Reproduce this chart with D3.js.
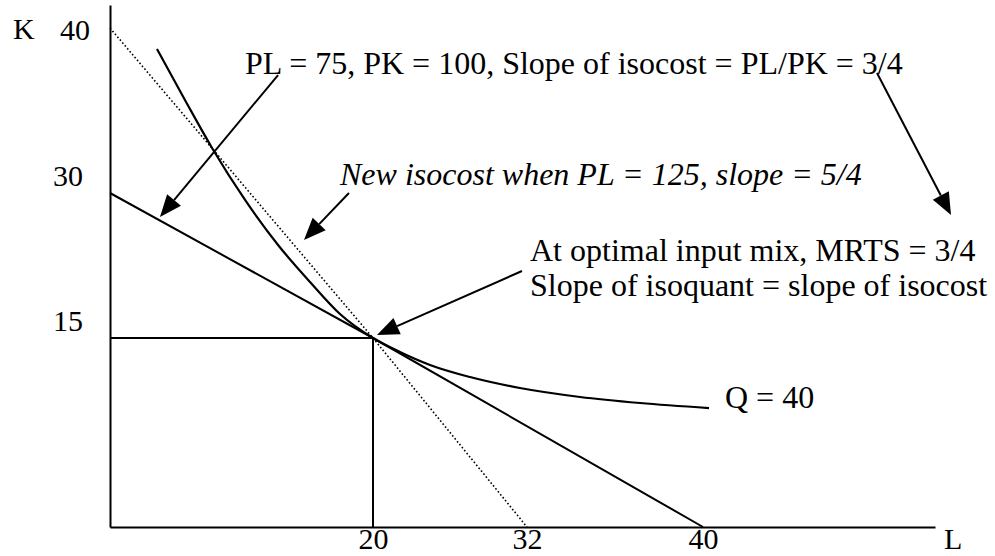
<!DOCTYPE html>
<html>
<head>
<meta charset="utf-8">
<script src="https://cdn.jsdelivr.net/npm/d3@7"></script>
<style>
  html, body { margin: 0; padding: 0; background: #fff; }
  svg { display: block; }
  text { font-family: "Liberation Serif", "Times New Roman", serif; font-size: 32px; fill: #000; }
</style>
</head>
<body>
<svg id="chart" width="995" height="556"></svg>
<script>
// Labour L on the horizontal axis, capital K on the vertical axis
const xTicks = [20, 32, 40];
const yTicks = [15, 30, 40];
const optimum = [20, 15];

// Isocost with PL = 75, PK = 100 (slope 3/4)
const isocost = [[0, 30], [20, 15], [40, 0]];
// New isocost when PL = 125 (slope 5/4)
const newIsocost = [[0, 40], [20, 15], [32, 0]];

// Isoquant Q = 40
const isoquantL = [3.57, 5.70, 7.76, 10.27, 12.78, 15.21, 17.49, 20.0, 22.10, 24.44, 27.56, 31.45, 34.41, 37.14, 40.26];
const isoquantK = [38.73, 35.64, 32.73, 29.28, 24.62, 20.79, 17.48, 15.0, 13.89, 12.86, 11.90, 11.03, 10.32, 9.84, 9.44];

// Annotation arrows, [from, to] in (L, K)
const arrowFrom = [[12.78, 37.15], [18.17, 30.0], [47.5, 37.27], [31.61, 21.93]];
const arrowTo   = [[3.80, 27.52], [14.75, 25.14], [50.69, 27.72], [20.31, 15.31]];

const svg = d3.select("#chart");

// Hand-drawn diagram: the axes are stretched piecewise between the labelled values
const x = d3.scaleLinear().domain([0, 20, 32, 40, 50]).range([110, 373, 527, 703, 935]);
const y = d3.scaleLinear().domain([0, 15, 30, 40, 42]).range([527, 338, 193, 28, 5]);

const line = d3.line().x(d => x(d[0])).y(d => y(d[1]));

// Axes
const xAxis = svg.append("g").attr("transform", `translate(0,${y(0)})`)
  .call(d3.axisBottom(x).tickValues(xTicks).tickSize(0).tickSizeOuter(0));
const yAxis = svg.append("g").attr("transform", `translate(${x(0)},0)`)
  .call(d3.axisLeft(y).tickValues(yTicks).tickSize(0).tickSizeOuter(0));
[xAxis, yAxis].forEach(g => {
  g.select(".domain").attr("stroke", "#000").attr("stroke-width", 2);
  g.selectAll(".tick text")
    .style("font-family", '"Liberation Serif", "Times New Roman", serif')
    .style("font-size", "30px").attr("fill", "#000").attr("dy", null);
});
xAxis.selectAll(".tick text").attr("y", 22);
yAxis.selectAll(".tick text")
  .attr("x", d => d === 40 ? -20 : -27)
  .attr("y", d => d === 40 ? 11 : -8);

svg.append("text").attr("x", 13).attr("y", 39).style("font-size", "30px").text("K");
svg.append("text").attr("x", 944).attr("y", 549).style("font-size", "30px").text("L");

// Guide lines to the optimal input mix
svg.append("path").attr("fill", "none").attr("stroke", "#000").attr("stroke-width", 2)
  .attr("d", line([[0, optimum[1]], optimum, [optimum[0], 0]]));

// Isocost lines
svg.append("path").attr("fill", "none").attr("stroke", "#000").attr("stroke-width", 2)
  .attr("d", line(isocost));
svg.append("path").attr("fill", "none").attr("stroke", "#000").attr("stroke-width", 1.6)
  .attr("stroke-dasharray", "1.6 2.2").attr("d", line(newIsocost));

// Isoquant
svg.append("path").attr("fill", "none").attr("stroke", "#000").attr("stroke-width", 2.2)
  .attr("d", d3.line().curve(d3.curveMonotoneX).x(d => x(d[0])).y(d => y(d[1]))(
    isoquantL.map((l, i) => [l, isoquantK[i]])));

// Arrows with filled heads
arrowFrom.forEach((f, i) => {
  const x0 = x(f[0]), y0 = y(f[1]), x1 = x(arrowTo[i][0]), y1 = y(arrowTo[i][1]);
  const a = Math.atan2(y1 - y0, x1 - x0);
  const len = 22, half = 9;
  const bx = x1 - len * Math.cos(a), by = y1 - len * Math.sin(a);
  svg.append("line").attr("x1", x0).attr("y1", y0).attr("x2", bx).attr("y2", by)
    .attr("stroke", "#000").attr("stroke-width", 2);
  svg.append("path").attr("fill", "#000")
    .attr("d", `M${x1},${y1}L${bx + half * Math.sin(a)},${by - half * Math.cos(a)}L${bx - half * Math.sin(a)},${by + half * Math.cos(a)}Z`);
});

// Annotations
svg.append("text").attr("x", 245).attr("y", 74).text("PL = 75, PK = 100, Slope of isocost = PL/PK = 3/4");
svg.append("text").attr("x", 340).attr("y", 185).style("font-style", "italic")
  .text("New isocost when PL = 125, slope = 5/4");
svg.append("text").attr("x", 530).attr("y", 261).text("At optimal input mix, MRTS = 3/4");
svg.append("text").attr("x", 530).attr("y", 296).text("Slope of isoquant = slope of isocost");
svg.append("text").attr("x", 725).attr("y", 408).text("Q = 40");
</script>
</body>
</html>
